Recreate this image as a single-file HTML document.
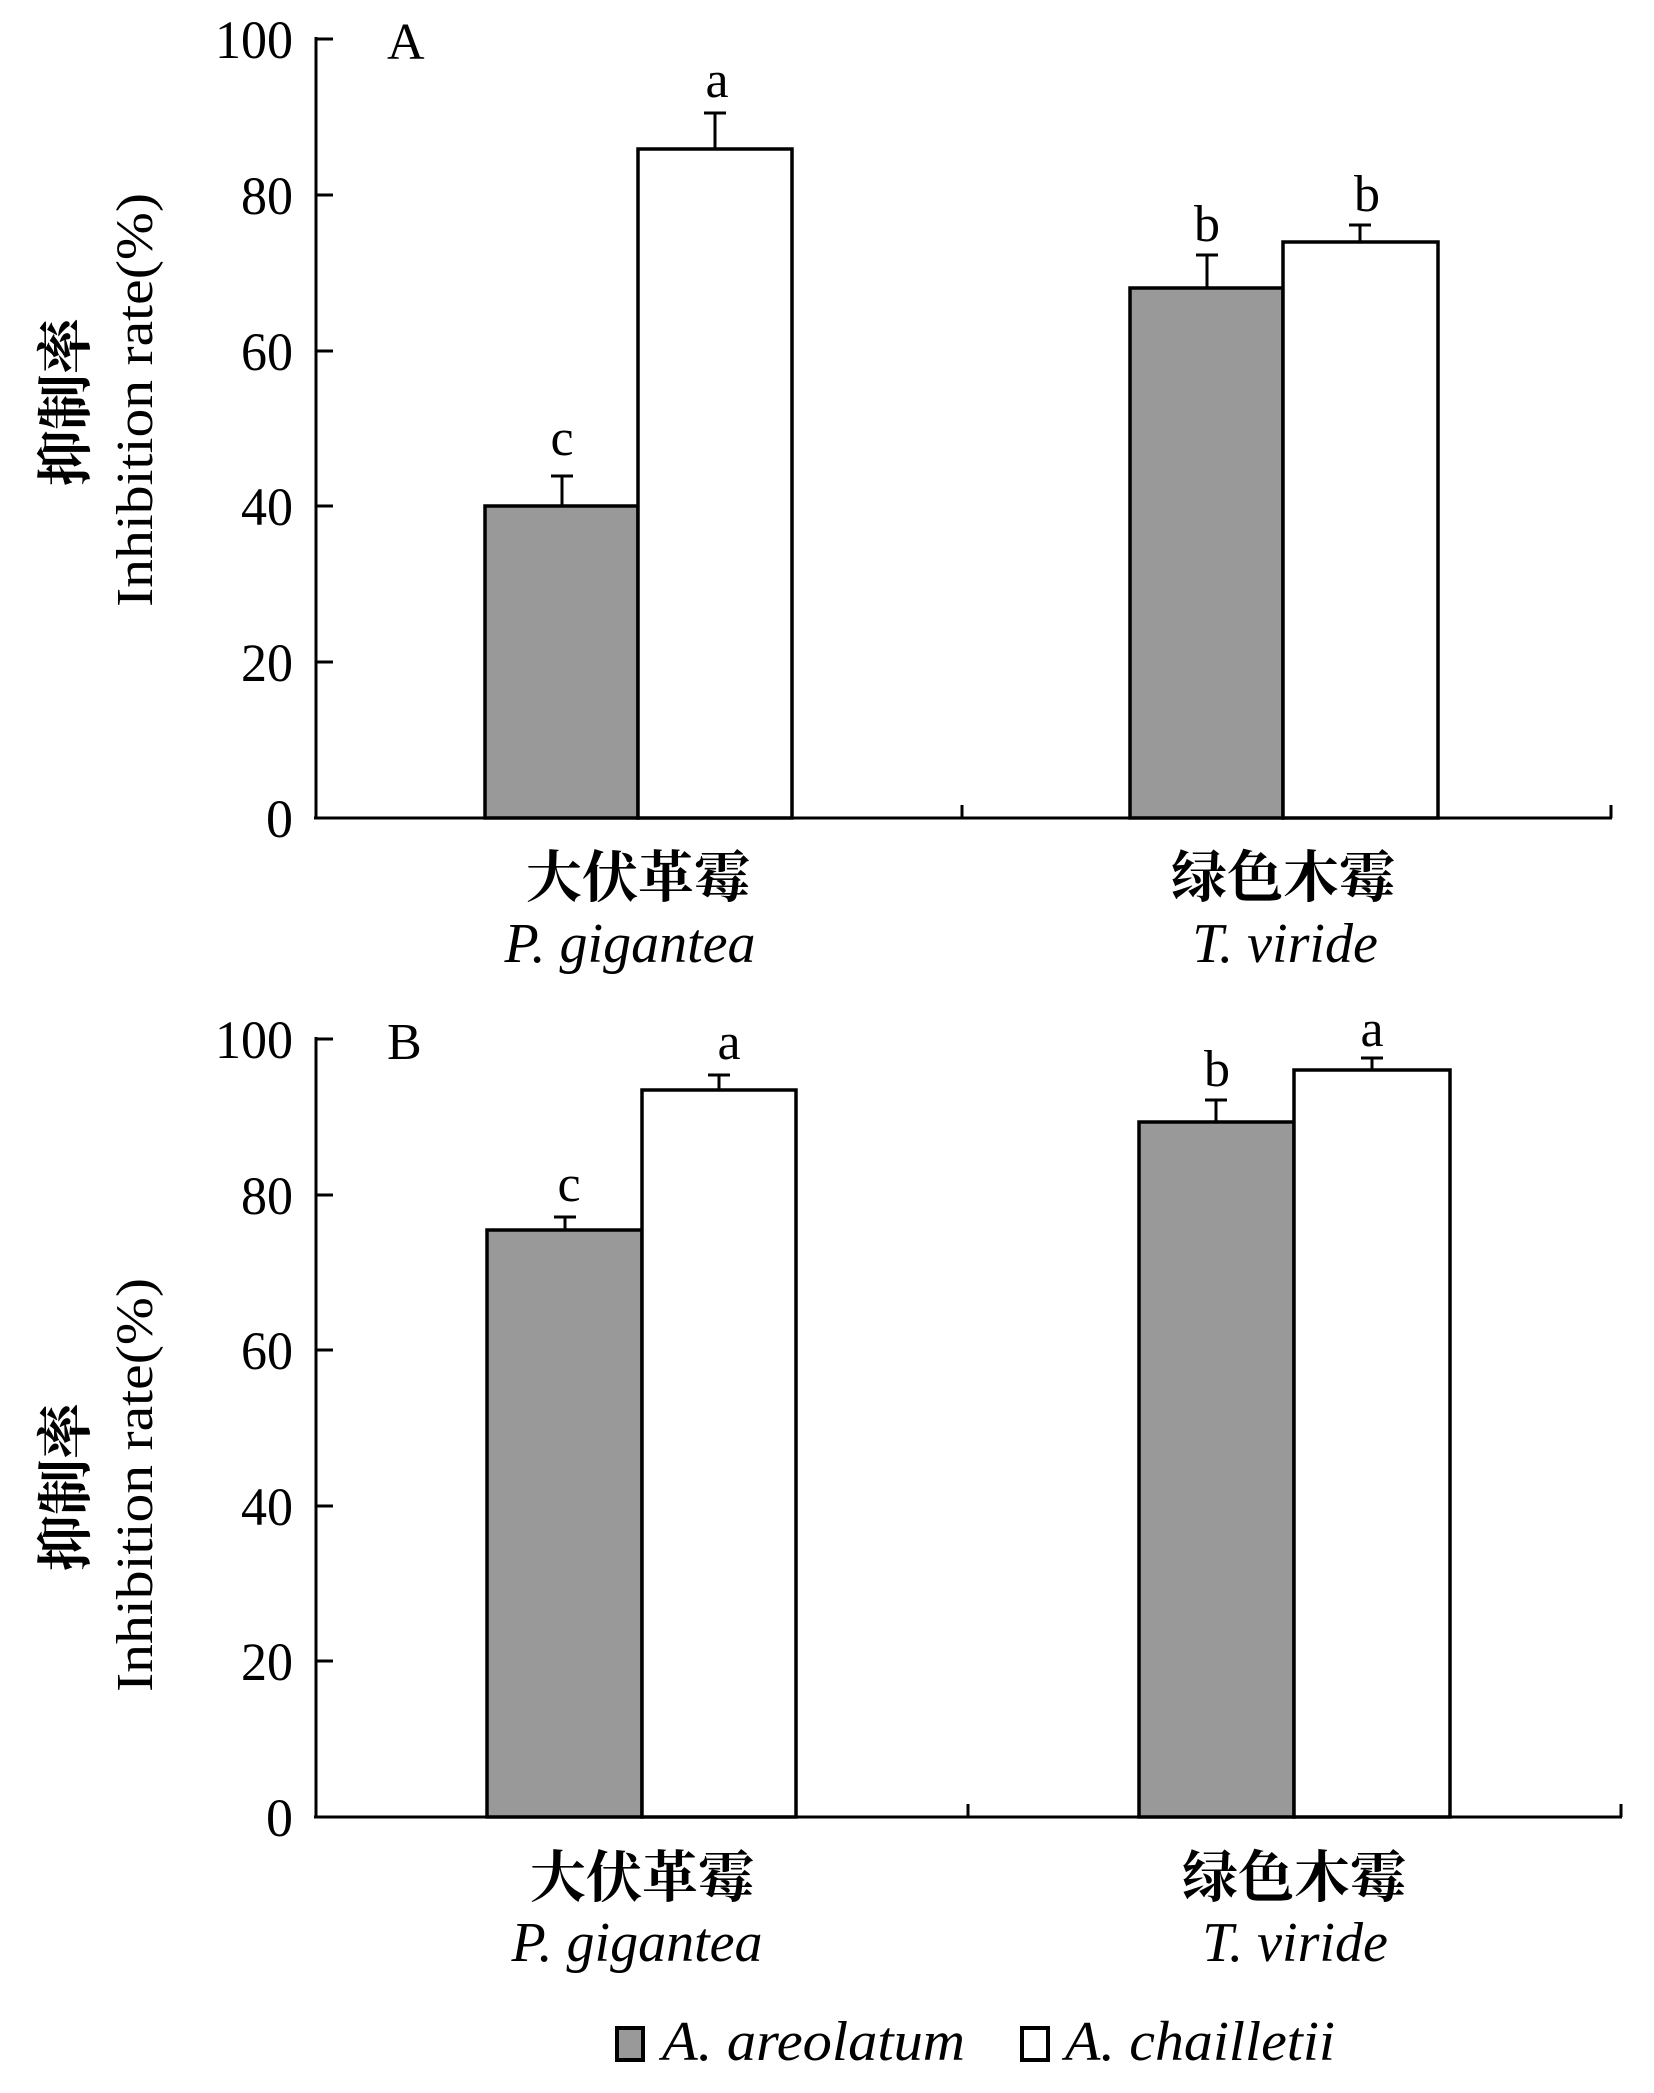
<!DOCTYPE html>
<html><head><meta charset="utf-8"><style>
html,body{margin:0;padding:0;background:#fff}
svg{display:block}
text{font-family:"Liberation Serif","Noto Serif CJK SC",serif;fill:#000}
.cj{font-family:"Liberation Serif","Noto Serif CJK SC",serif;font-weight:bold}
</style></head><body>
<svg width="1654" height="2093" viewBox="0 0 1654 2093" xmlns="http://www.w3.org/2000/svg">
<g stroke="#000" stroke-width="3" fill="none">
<line x1="316" y1="37" x2="316" y2="819"/>
<line x1="314" y1="818" x2="1612" y2="818"/>
<line x1="316" y1="39" x2="333" y2="39"/>
<line x1="316" y1="195" x2="333" y2="195"/>
<line x1="316" y1="351" x2="333" y2="351"/>
<line x1="316" y1="506" x2="333" y2="506"/>
<line x1="316" y1="662" x2="333" y2="662"/>
<line x1="962" y1="818" x2="962" y2="805"/>
<line x1="1611" y1="818" x2="1611" y2="805"/>
<line x1="316" y1="1037" x2="316" y2="1818"/>
<line x1="314" y1="1817" x2="1622" y2="1817"/>
<line x1="316" y1="1039" x2="333" y2="1039"/>
<line x1="316" y1="1195" x2="333" y2="1195"/>
<line x1="316" y1="1350" x2="333" y2="1350"/>
<line x1="316" y1="1506" x2="333" y2="1506"/>
<line x1="316" y1="1661" x2="333" y2="1661"/>
<line x1="968" y1="1817" x2="968" y2="1804"/>
<line x1="1621" y1="1817" x2="1621" y2="1804"/>
</g>
<g stroke="#000" stroke-width="3.5">
<rect x="485" y="506" width="153" height="312" fill="#999"/>
<rect x="638" y="149" width="154" height="669" fill="#fff"/>
<rect x="1130" y="288" width="153" height="530" fill="#999"/>
<rect x="1283" y="242" width="155" height="576" fill="#fff"/>
<rect x="487" y="1230" width="155" height="587" fill="#999"/>
<rect x="642" y="1090" width="154" height="727" fill="#fff"/>
<rect x="1139" y="1122" width="155" height="695" fill="#999"/>
<rect x="1294" y="1070" width="156" height="747" fill="#fff"/>
</g>
<g stroke="#000" stroke-width="3">
<path d="M562 506V476M551 476H573"/>
<path d="M715 149V113M704 113H726"/>
<path d="M1207 288V255M1196 255H1218"/>
<path d="M1360 242V225M1349 225H1371"/>
<path d="M565 1230V1217M554 1217H576"/>
<path d="M719 1090V1075M708 1075H730"/>
<path d="M1216 1122V1100M1205 1100H1227"/>
<path d="M1372 1070V1058M1361 1058H1383"/>
</g>
<g font-size="54" text-anchor="end">
<text x="293" y="58" textLength="78" lengthAdjust="spacingAndGlyphs">100</text><text x="293" y="214" textLength="52" lengthAdjust="spacingAndGlyphs">80</text><text x="293" y="370" textLength="52" lengthAdjust="spacingAndGlyphs">60</text><text x="293" y="525" textLength="52" lengthAdjust="spacingAndGlyphs">40</text><text x="293" y="681" textLength="52" lengthAdjust="spacingAndGlyphs">20</text><text x="293" y="837">0</text>
<text x="293" y="1058" textLength="78" lengthAdjust="spacingAndGlyphs">100</text><text x="293" y="1214" textLength="52" lengthAdjust="spacingAndGlyphs">80</text><text x="293" y="1369" textLength="52" lengthAdjust="spacingAndGlyphs">60</text><text x="293" y="1525" textLength="52" lengthAdjust="spacingAndGlyphs">40</text><text x="293" y="1680" textLength="52" lengthAdjust="spacingAndGlyphs">20</text><text x="293" y="1836">0</text>
</g>
<g font-size="52">
<text x="387" y="59">A</text>
<text x="387" y="1059">B</text>
</g>
<g font-size="52" text-anchor="middle">
<text x="562" y="455">c</text><text x="717" y="97">a</text><text x="1207" y="241">b</text><text x="1367" y="211">b</text>
<text x="569" y="1201">c</text><text x="729" y="1059">a</text><text x="1217" y="1086">b</text><text x="1372" y="1046">a</text>
</g>
<g transform="translate(85,402) rotate(-90)"><text class="cj" font-size="56" text-anchor="middle">抑制率</text></g>
<g transform="translate(152,400) rotate(-90)"><text font-size="52" text-anchor="middle" textLength="414" lengthAdjust="spacingAndGlyphs">Inhibition rate(%)</text></g>
<g transform="translate(85,1487) rotate(-90)"><text class="cj" font-size="56" text-anchor="middle">抑制率</text></g>
<g transform="translate(152,1485) rotate(-90)"><text font-size="52" text-anchor="middle" textLength="414" lengthAdjust="spacingAndGlyphs">Inhibition rate(%)</text></g>
<g font-size="56" text-anchor="middle">
<text class="cj" x="638" y="897">大伏革霉</text>
<text class="cj" x="1283" y="897">绿色木霉</text>
<text x="630" y="962" font-style="italic">P. gigantea</text>
<text x="1285" y="962" font-style="italic">T. viride</text>
<text class="cj" x="642" y="1897">大伏革霉</text>
<text class="cj" x="1294" y="1897">绿色木霉</text>
<text x="637" y="1961" font-style="italic">P. gigantea</text>
<text x="1295" y="1961" font-style="italic">T. viride</text>
</g>
<rect x="617" y="2028" width="26" height="32" fill="#999" stroke="#000" stroke-width="4"/>
<rect x="1022" y="2028" width="26" height="32" fill="#fff" stroke="#000" stroke-width="4"/>
<g font-size="56" font-style="italic">
<text x="662" y="2060" textLength="303" lengthAdjust="spacingAndGlyphs">A. areolatum</text>
<text x="1065" y="2060" textLength="270" lengthAdjust="spacingAndGlyphs">A. chailletii</text>
</g>
</svg>
</body></html>
